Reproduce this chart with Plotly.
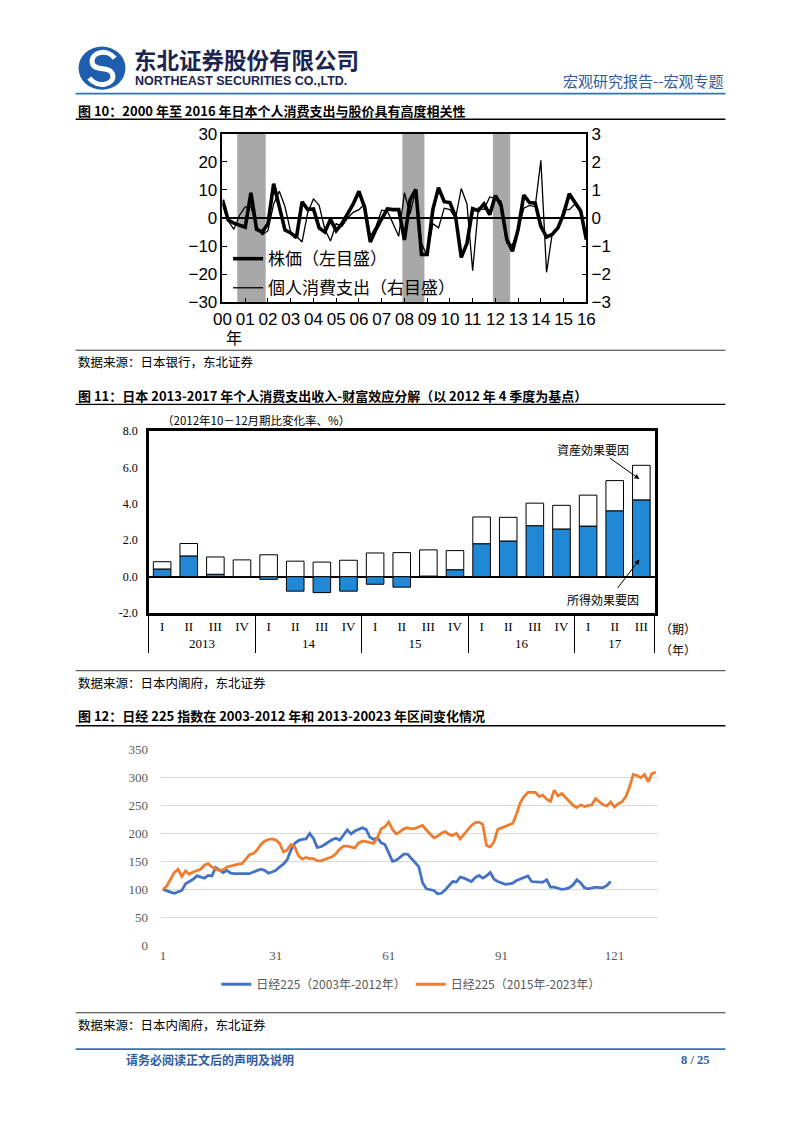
import plotly.graph_objects as go

# The browser keeps its default 8px body margin, so the figure is 16px smaller than the page
PAGE_W, PAGE_H = 802, 1133
PAD = 8
W, H = PAGE_W - 2 * PAD, PAGE_H - 2 * PAD


def px(x):
    return (x - PAD) / W


def py(y):
    return 1 - (y - PAD) / H


# ---------------- Chart 10 data (quarterly, 2000Q1 - 2016Q1) ----------------
stock_yoy = [6.5, -0.7, -1.8, -2.5, -3.3, 9.0, -4.0, -5.0, -2.0, 12.2,
             4.0, -4.3, -5.3, -7.0, 5.8, 3.0, 3.2, -3.5, -5.0, -0.5,
             -4.5, -2.0, 1.5, 5.0, 9.5, 3.8, -8.5, -4.0, -0.3, 3.2,
             3.0, 3.0, -7.8, 6.5, 10.2, -13.0, -13.0, 3.0, 10.8, 5.8,
             5.5, 0.5, -14.0, -9.0, 3.3, 2.6, 5.0, 1.2, 8.0, 4.5,
             -7.5, -11.8, -4.0, 8.2, 5.5, 5.3, -3.0, -6.8, -5.8, -3.5,
             1.5, 8.6, 5.5, 2.5, -7.7]
consumption_yoy = [0.5, -0.1, -0.4, 0.1, 0.4, 0.4, -0.3, -0.6, -0.45, 0.5,
                   0.95, 0.4, -0.5, -0.65, -0.85, 0.2, 0.68, 0.45, -0.4, -0.82,
                   -0.2, -0.3, 0.0, 0.2, 0.3, 0.5, -0.65, -0.3, 0.28, 0.25,
                   -0.2, -0.65, 0.9, 0.15, 1.0, -0.9, -1.35, -0.2, -0.35, 0.35,
                   0.3, 0.0, 1.05, 0.5, -1.87, 0.35, 0.3, 0.75, 0.7, 0.6,
                   -0.9, -0.95, -0.45, 0.35, 0.45, 0.4, 2.05, -1.93, -0.55, -0.4,
                   0.3, 0.3, 0.5, 0.2, -0.65]
year_ticks_10 = list(range(2000, 2017))
year_labels_10 = ["00", "01", "02", "03", "04", "05", "06", "07", "08",
                  "09", "10", "11", "12", "13", "14", "15", "16"]
recession_start = [2000.65, 2007.91, 2011.89]
recession_end = [2001.90, 2008.88, 2012.65]

# ---------------- Chart 11 data ----------------
quarters_11 = ["I", "II", "III", "IV", "I", "II", "III", "IV", "I", "II",
               "III", "IV", "I", "II", "III", "IV", "I", "II", "III"]
years_11 = ["2013"] * 4 + ["14"] * 4 + ["15"] * 4 + ["16"] * 4 + ["17"] * 3
income_effect = [0.42, 1.14, 0.13, -0.03, -0.15, -0.80, -0.88, -0.80, -0.42, -0.58,
                 0.03, 0.38, 1.81, 1.96, 2.80, 2.62, 2.78, 3.62, 4.22]
asset_effect = [0.40, 0.68, 0.95, 0.92, 1.20, 0.85, 0.80, 0.90, 1.30, 1.32,
                1.44, 1.05, 1.47, 1.30, 1.24, 1.30, 1.70, 1.66, 1.90]
y_ticks_11 = [-2, 0, 2, 4, 6, 8]
y_ticktext_11 = ["-2.0", "0.0", "2.0", "4.0", "6.0", "8.0"]

# ---------------- Chart 12 data ----------------
nikkei_2003_2012 = [100, 97, 95, 93, 95, 98, 110, 114, 118, 124,
                    122, 120, 125, 124, 139, 135, 130, 134, 129, 128,
                    128, 129, 129, 128, 131, 133, 136, 134, 129, 131,
                    134, 140, 145, 153, 170, 182, 187, 189, 190, 200,
                    191, 175, 176, 180, 185, 189, 191, 188, 197, 206,
                    199, 204, 207, 210, 207, 193, 189, 192, 183, 180,
                    165, 150, 152, 157, 163, 163, 156, 148, 140, 112,
                    101, 99, 98, 92, 93, 99, 107, 114, 113, 122,
                    120, 117, 114, 121, 125, 120, 124, 130, 118, 114,
                    111, 109, 110, 111, 116, 119, 122, 124, 114, 113,
                    113, 113, 117, 104, 104, 102, 100, 101, 103, 108,
                    117, 112, 103, 101, 103, 104, 103, 103, 107, 114]
nikkei_2015_2023 = [100, 106, 118, 130, 136, 123, 133, 127, 131, 134,
                    136, 143, 146, 140, 136, 134, 135, 140, 142, 144,
                    145, 146, 155, 162, 164, 170, 180, 186, 189, 190,
                    188, 182, 167, 170, 180, 176, 160, 154, 157, 155,
                    155, 151, 151, 154, 156, 158, 164, 172, 177, 177,
                    176, 174, 183, 186, 185, 184, 182, 192, 208, 212,
                    220, 207, 199, 203, 208, 210, 208, 209, 212, 214,
                    206, 198, 192, 195, 200, 203, 198, 196, 200, 190,
                    198, 205, 214, 219, 220, 216, 178, 176, 185, 207,
                    210, 212, 216, 218, 235, 255, 266, 273, 273, 273,
                    266, 268, 261, 257, 277, 267, 271, 264, 257, 250,
                    246, 251, 248, 250, 251, 262, 257, 251, 249, 256,
                    247, 253, 256, 265, 282, 305, 303, 299, 305, 292,
                    307, 309]
x_ticks_12 = [1, 31, 61, 91, 121]

CJK = "Noto Sans CJK SC"
CJK_JP = "Noto Sans CJK JP"
SERIF = "Liberation Serif, DejaVu Serif, serif"
SANS = "Liberation Sans, Arial, sans-serif"
BLUE_HDR = "#2E5C9E"

fig = go.Figure()

# ---- Chart 10 traces ----
qx = [2000 + k / 4 for k in range(len(stock_yoy))]
fig.add_trace(go.Scatter(x=qx, y=stock_yoy, mode="lines", name="株価（左目盛）",
                         line=dict(color="black", width=3.6), xaxis="x", yaxis="y",
                         legend="legend", legendgroup="g1"))
fig.add_trace(go.Scatter(x=qx, y=consumption_yoy, mode="lines", name="個人消費支出（右目盛）",
                         line=dict(color="black", width=1.3), xaxis="x", yaxis="y2",
                         legend="legend", legendgroup="g2"))

# ---- Chart 11 traces ----
fig.add_trace(go.Bar(x=[years_11, quarters_11], y=income_effect, width=0.66,
                     marker=dict(color="#2088D4", line=dict(color="black", width=1)),
                     xaxis="x2", yaxis="y3", showlegend=False))
fig.add_trace(go.Bar(x=[years_11, quarters_11], y=asset_effect, width=0.66,
                     marker=dict(color="white", line=dict(color="black", width=1)),
                     xaxis="x2", yaxis="y3", showlegend=False))

# ---- Chart 12 traces ----
fig.add_trace(go.Scatter(x=list(range(1, len(nikkei_2003_2012) + 1)), y=nikkei_2003_2012,
                         mode="lines", name="日经225（2003年-2012年）",
                         line=dict(color="#4472C4", width=2.8), xaxis="x3", yaxis="y4",
                         legend="legend2"))
fig.add_trace(go.Scatter(x=list(range(1, len(nikkei_2015_2023) + 1)), y=nikkei_2015_2023,
                         mode="lines", name="日经225（2015年-2023年）",
                         line=dict(color="#ED7D31", width=2.8), xaxis="x3", yaxis="y4",
                         legend="legend2"))

shapes = []
# recession bands chart 10
for s, e in zip(recession_start, recession_end):
    shapes.append(dict(type="rect", xref="x", yref="y domain", x0=s, x1=e, y0=0, y1=1,
                       fillcolor="#A8A8A8", line=dict(width=0), layer="below"))


def hline(y, x0=68, x1=733, color="black", width=1.0):
    shapes.append(dict(type="line", xref="paper", yref="paper", x0=px(x0), x1=px(x1),
                       y0=py(y), y1=py(y), line=dict(color=color, width=width)))


hline(86, color="#2E75B6", width=1.6)
hline(112, width=1.3)
hline(347, width=0.8)
hline(402, width=1.3)
hline(673, width=0.8)
hline(729, width=1.3)
hline(1021, width=0.8)
hline(1058, color="#2E75B6", width=1.6)

# logo
shapes.append(dict(type="circle", xref="paper", yref="paper", x0=px(71), x1=px(119),
                   y0=py(82), y1=py(38), fillcolor="#1F5DAE", line=dict(width=0)))


def pth(pts):
    s = "M %f %f" % (px(pts[0][0]), py(pts[0][1]))
    rest = pts[1:]
    for i in range(0, len(rest), 3):
        a, b, c = rest[i], rest[i + 1], rest[i + 2]
        s += " C %f %f, %f %f, %f %f" % (px(a[0]), py(a[1]), px(b[0]), py(b[1]), px(c[0]), py(c[1]))
    return s


shapes.append(dict(type="path", xref="paper", yref="paper",
                   path=pth([(108, 50), (101, 40), (83, 43), (85, 55), (88, 64), (104, 57),
                             (106, 67), (108, 77), (90, 81), (82, 70)]),
                   line=dict(color="white", width=5)))

ann = []


def text(x, y, s, size=13, color="black", family=CJK, xanchor="left", yanchor="middle"):
    ann.append(dict(x=px(x), y=py(y), xref="paper", yref="paper", text=s, showarrow=False,
                    xanchor=xanchor, yanchor=yanchor,
                    font=dict(size=size, color=color, family=family)))


# header
text(126, 51, "<b>东北证券股份有限公司</b>", size=22.5, color="#1B2550")
text(127, 73, "<b>NORTHEAST SECURITIES CO.,LTD.</b>", size=12.5, color="#1B2550", family=SANS)
text(733, 73, "宏观研究报告--宏观专题", size=15, color=BLUE_HDR, xanchor="right")

# chart 10 texts
text(68, 103, "<b>图 10：2000 年至 2016 年日本个人消费支出与股价具有高度相关性</b>", size=13)
text(230, 334, "年", size=16, family=CJK_JP, xanchor="center")
text(68, 358, "数据来源：日本银行，东北证券", size=12.5)

# chart 11 texts
text(68, 393, "<b>图 11：日本 2013-2017 年个人消费支出收入-财富效应分解（以 2012 年 4 季度为基点）</b>", size=13)
text(154, 418, "（2012年10－12月期比変化率、%）", size=11.5, family=CJK_JP)
text(597, 448, "資産効果要因", size=12, family=CJK_JP, xanchor="center")
text(608, 601, "所得効果要因", size=12, family=CJK_JP, xanchor="center")
text(664, 630, "（期）", size=12, family=CJK_JP)
text(664, 651, "（年）", size=12, family=CJK_JP)
text(68, 685, "数据来源：日本内阁府，东北证券", size=12.5)

# chart 12 texts
text(68, 719, "<b>图 12：日经 225 指数在 2003-2012 年和 2013-20023 年区间变化情况</b>", size=13)
text(68, 1033, "数据来源：日本内阁府，东北证券", size=12.5)

# footer
text(118, 1069, "<b>请务必阅读正文后的声明及说明</b>", size=12, color=BLUE_HDR)
text(718, 1069, "<b>8 / 25</b>", size=12.5, color=BLUE_HDR, family=SERIF, xanchor="right")

# arrows chart 11 (offsets in pixels from the head)
ann.append(dict(x=px(645), y=py(478), xref="paper", yref="paper", ax=-31, ay=-22,
                text="", showarrow=True, arrowhead=2,
                arrowsize=1, arrowwidth=1, arrowcolor="black"))
ann.append(dict(x=px(645), y=py(560), xref="paper", yref="paper", ax=-23, ay=30,
                text="", showarrow=True, arrowhead=2,
                arrowsize=1, arrowwidth=1, arrowcolor="black"))

axis_font10 = dict(family=SANS, size=17, color="black")
serif12 = dict(family=SERIF, size=12, color="black")
serif13 = dict(family=SERIF, size=13, color="black")
grey13 = dict(family=SERIF, size=13, color="#595959")

fig.update_layout(
    width=W, height=H, autosize=False,
    margin=dict(l=0, r=0, t=0, b=0),
    paper_bgcolor="white", plot_bgcolor="rgba(0,0,0,0)",
    barmode="relative",
    font=dict(family=CJK, color="black"),
    # chart 10
    xaxis=dict(domain=[px(218.3), px(590.7)], anchor="y", range=[2000, 2016],
               tickvals=year_ticks_10, ticktext=year_labels_10, ticks="inside", ticklen=5,
               tickcolor="black", showline=True, linecolor="black", linewidth=1.5, mirror=True,
               showgrid=False, zeroline=False, tickfont=axis_font10),
    yaxis=dict(domain=[py(298.3), py(126.7)], anchor="x", range=[-30, 30], dtick=10,
               ticks="inside", ticklen=5, tickcolor="black", showline=True, linecolor="black",
               linewidth=1.5, showgrid=False, zeroline=True, zerolinecolor="black",
               zerolinewidth=1.5, tickfont=axis_font10),
    yaxis2=dict(overlaying="y", side="right", anchor="x", range=[-3, 3], dtick=1,
                ticks="inside", ticklen=5, tickcolor="black", showline=True, linecolor="black",
                linewidth=1.5, showgrid=False, zeroline=False, tickfont=axis_font10),
    # chart 11
    xaxis2=dict(domain=[px(142.9), px(660.6)], anchor="y3", type="multicategory",
                showline=True, linecolor="black", linewidth=2.5, mirror=True, ticks="",
                showdividers=True, dividercolor="black", dividerwidth=1.2,
                showgrid=False, tickfont=serif13),
    yaxis3=dict(domain=[py(614.3), py(429.3)], anchor="x2", range=[-2, 8],
                tickvals=y_ticks_11, ticktext=y_ticktext_11, showline=True, linecolor="black",
                linewidth=2.5, mirror=True, showgrid=False, zeroline=True, zerolinecolor="black",
                zerolinewidth=1.5, ticks="", tickfont=serif12, ticklabelstandoff=6),
    # chart 12
    xaxis3=dict(domain=[px(155.5), px(663.7)], anchor="y4", range=[0.5, 132.5],
                tickvals=x_ticks_12, showgrid=False, showline=False, zeroline=False, ticks="",
                tickfont=grey13, ticklabelstandoff=0),
    yaxis4=dict(domain=[py(952.7), py(752.7)], anchor="x3", range=[-0.4, 350.4], dtick=50,
                showgrid=True, gridcolor="#D9D9D9", gridwidth=1, zeroline=False, showline=False,
                ticks="", tickfont=grey13, ticklabelstandoff=12),
    legend=dict(x=px(224), y=py(236), xanchor="left", yanchor="top", bgcolor="rgba(0,0,0,0)",
                traceorder="grouped", tracegroupgap=4,
                font=dict(family=CJK_JP, size=17, color="black")),
    legend2=dict(orientation="h", x=px(212), y=py(992), xanchor="left", yanchor="middle",
                 bgcolor="rgba(0,0,0,0)", font=dict(family=CJK, size=12, color="#595959")),
    shapes=shapes,
    annotations=ann,
)

fig.write_html("out.html", config={"displayModeBar": False})
